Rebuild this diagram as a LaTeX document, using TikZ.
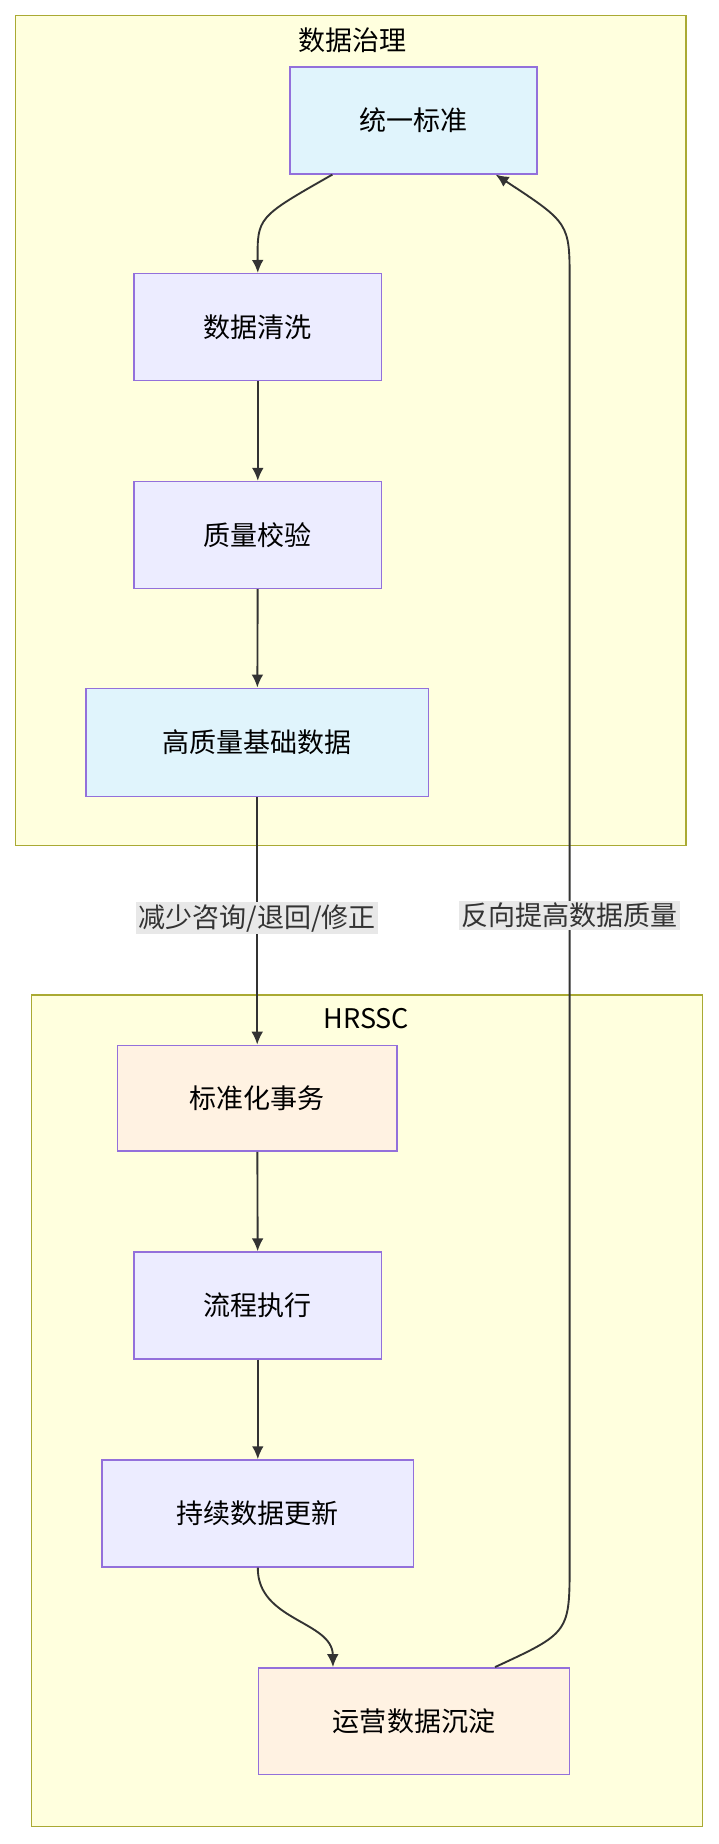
\documentclass[tikz,border=0pt]{standalone}
\usepackage{fontspec}
\setmainfont{Noto Sans CJK SC}
\usetikzlibrary{arrows.meta}
\begin{document}
\begin{tikzpicture}[x=1pt,y=-1pt,font=\fontsize{23}{26}\selectfont]
    \definecolor{dg_group}{RGB}{255,255,222}
    \definecolor{dg_groupline}{RGB}{170,170,51}
    \definecolor{dg_blue}{RGB}{224,244,252}
    \definecolor{dg_lilac}{RGB}{236,236,255}
    \definecolor{dg_orange}{RGB}{255,242,226}
    \definecolor{dg_border}{RGB}{147,112,219}
    \definecolor{dg_line}{RGB}{51,51,51}
    \definecolor{dg_label}{RGB}{232,232,232}
    \tikzset{
        stepbox/.style={shape=rectangle,draw=dg_border,line width=1.3pt,inner sep=0pt},
        flow/.style={draw=dg_line,line width=1.6pt,-{Latex[length=11pt,width=10pt]}},
        edgelabel/.style={fill=dg_label,inner sep=2pt,text=dg_line}
    }
    \useasboundingbox (0,0) rectangle (612,1570);
    % groups
    \draw[fill=dg_group,draw=dg_groupline,line width=1.3pt] (13,13) rectangle (584,720);
    \node (gov) at (300,34) {数据治理};
    \draw[fill=dg_group,draw=dg_groupline,line width=1.3pt] (27,847) rectangle (598,1555);
    \node (hrssc) at (312,867) {HRSSC};
    % steps
    \node[stepbox,fill=dg_blue,minimum width=210pt,minimum height=91pt]   (std)   at (352,102.5)  {统一标准};
    \node[stepbox,fill=dg_lilac,minimum width=211pt,minimum height=91pt]  (clean) at (219.5,278.5) {数据清洗};
    \node[stepbox,fill=dg_lilac,minimum width=211pt,minimum height=91pt]  (check) at (219.5,455.5) {质量校验};
    \node[stepbox,fill=dg_blue,minimum width=292pt,minimum height=92pt]   (base)  at (219,632)    {高质量基础数据};
    \node[stepbox,fill=dg_orange,minimum width=238pt,minimum height=90pt] (tx)    at (219,935)    {标准化事务};
    \node[stepbox,fill=dg_lilac,minimum width=211pt,minimum height=91pt]  (run)   at (219.5,1111.5) {流程执行};
    \node[stepbox,fill=dg_lilac,minimum width=265pt,minimum height=91pt]  (upd)   at (219.5,1288.5) {持续数据更新};
    \node[stepbox,fill=dg_orange,minimum width=265pt,minimum height=91pt] (ops)   at (352.5,1465.5) {运营数据沉淀};
    % connectors
    \draw[flow] ([xshift=-69pt]std.south) .. controls (219,185) .. (clean.north);
    \draw[flow] (clean) -- (check);
    \draw[flow] (check) -- (base);
    \draw[flow] (base) -- node[edgelabel,pos=0.49] {减少咨询/退回/修正} (tx);
    \draw[flow] (tx) -- (run);
    \draw[flow] (run) -- (upd);
    \draw[flow] (upd.south) .. controls (219,1380) and (283,1380) .. ([xshift=-69pt]ops.north);
    \draw[flow] ([xshift=69pt]ops.north) .. controls (485,1390) .. (485,1330)
        -- node[edgelabel,pos=0.505] {反向提高数据质量} (485,240)
        .. controls (485,190) .. ([xshift=70pt]std.south);
\end{tikzpicture}
\end{document}
